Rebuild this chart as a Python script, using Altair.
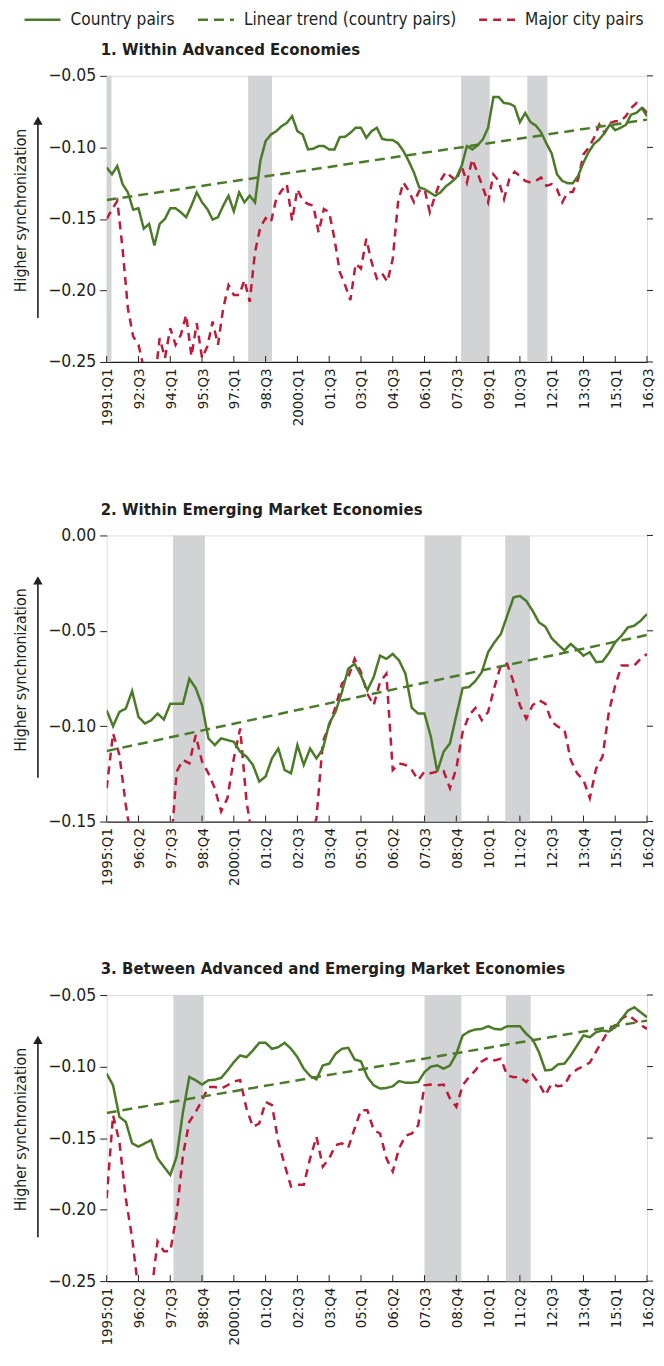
import altair as alt
import pandas as pd

FONT = "DejaVu Sans Condensed, Liberation Sans Narrow, sans-serif"
INK = "#231f20"

SERIES = ["Country pairs", "Linear trend (country pairs)", "Major city pairs"]
COLORS = ["#4b7b29", "#4b7b29", "#bf1b38"]
DASHES = [[1, 0], [10, 6], [8, 6]]
Y_TITLE = "Higher synchronization"

# ---------------- Panel 1 ----------------
p1_title = "1. Within Advanced Economies"
p1_country = [
    -0.1141, -0.1188, -0.1130, -0.1257, -0.1315, -0.1435, -0.1426, -0.1569, -0.1535, -0.1685,
    -0.1535, -0.1500, -0.1426, -0.1426, -0.1454, -0.1488, -0.1407, -0.1315, -0.1384, -0.1431,
    -0.1505, -0.1488, -0.1407, -0.1338, -0.1447, -0.1315, -0.1384, -0.1338, -0.1384, -0.1095,
    -0.0956, -0.0910, -0.0887, -0.0852, -0.0829, -0.0782, -0.0887, -0.0910, -0.1014, -0.1009,
    -0.0991, -0.0991, -0.1014, -0.1014, -0.0928, -0.0926, -0.0898, -0.0863, -0.0863, -0.0933,
    -0.0887, -0.0863, -0.0940, -0.0949, -0.0949, -0.0972, -0.1025, -0.1095, -0.1176, -0.1280,
    -0.1292, -0.1315, -0.1338, -0.1315, -0.1273, -0.1245, -0.1211, -0.1130, -0.0991, -0.1014,
    -0.0986, -0.0944, -0.0863, -0.0648, -0.0648, -0.0690, -0.0694, -0.0713, -0.0824, -0.0759,
    -0.0824, -0.0847, -0.0894, -0.0972, -0.1042, -0.1188, -0.1234, -0.1250, -0.1250, -0.1199,
    -0.1106, -0.1032, -0.0975, -0.0944, -0.0898, -0.0840, -0.0880, -0.0863, -0.0843, -0.0771,
    -0.0759, -0.0725, -0.0782]
p1_city = [
    -0.1500, -0.1435, -0.1373, -0.1708, -0.2125, -0.2322, -0.2380, -0.2542, -0.2634, -0.2657,
    -0.2333, -0.2472, -0.2264, -0.2380, -0.2310, -0.2171, -0.2461, -0.2229, -0.2472, -0.2391,
    -0.2218, -0.2380, -0.2125, -0.1963, -0.2032, -0.2032, -0.1928, -0.2079, -0.1731, -0.1558,
    -0.1495, -0.1523, -0.1361, -0.1303, -0.1257, -0.1512, -0.1292, -0.1373, -0.1396, -0.1407,
    -0.1593, -0.1431, -0.1454, -0.1639, -0.1870, -0.1963, -0.2067, -0.1813, -0.1847, -0.1639,
    -0.1801, -0.1917, -0.1882, -0.1940, -0.1778, -0.1384, -0.1245, -0.1303, -0.1384, -0.1303,
    -0.1292, -0.1454, -0.1338, -0.1234, -0.1171, -0.1204, -0.1234, -0.1130, -0.1245, -0.1083,
    -0.1176, -0.1280, -0.1384, -0.1188, -0.1234, -0.1361, -0.1222, -0.1171, -0.1199, -0.1234,
    -0.1245, -0.1234, -0.1211, -0.1269, -0.1257, -0.1292, -0.1384, -0.1315, -0.1310, -0.1222,
    -0.1049, -0.1002, -0.0933, -0.0840, -0.0898, -0.0829, -0.0817, -0.0817, -0.0782, -0.0725,
    -0.0690, -0.0718, -0.0759]
p1_trend = [-0.1368, -0.0806]
p1_ticks = ["1991:Q1", "92:Q3", "94:Q1", "95:Q3", "97:Q1", "98:Q3", "2000:Q1", "01:Q3",
            "03:Q1", "04:Q3", "06:Q1", "07:Q3", "09:Q1", "10:Q3", "12:Q1", "13:Q3",
            "15:Q1", "16:Q3"]
p1_step = 6
p1_shade_start = [0.0, 26.7, 66.9, 79.4]
p1_shade_end = [0.9, 31.2, 72.3, 83.2]
p1_ydomain = [-0.25, -0.05]
p1_yticks = [-0.25, -0.20, -0.15, -0.10, -0.05]

# ---------------- Panel 2 ----------------
p2_title = "2. Within Emerging Market Economies"
p2_country = [
    -0.0917, -0.1000, -0.0925, -0.0908, -0.0816, -0.0951, -0.0986, -0.0969, -0.0934, -0.0965,
    -0.0882, -0.0882, -0.0882, -0.0751, -0.0800, -0.0890, -0.1064, -0.1099, -0.1064, -0.1073,
    -0.1082, -0.1134, -0.1160, -0.1203, -0.1290, -0.1264, -0.1169, -0.1117, -0.1230, -0.1247,
    -0.1099, -0.1203, -0.1117, -0.1169, -0.1120, -0.0986, -0.0925, -0.0821, -0.0699, -0.0673,
    -0.0734, -0.0812, -0.0743, -0.0630, -0.0647, -0.0621, -0.0656, -0.0725, -0.0904, -0.0934,
    -0.0934, -0.1056, -0.1238, -0.1134, -0.1090, -0.0943, -0.0800, -0.0795, -0.0763, -0.0717,
    -0.0612, -0.0560, -0.0517, -0.0421, -0.0325, -0.0317, -0.0343, -0.0395, -0.0456, -0.0478,
    -0.0539, -0.0572, -0.0603, -0.0569, -0.0598, -0.0630, -0.0612, -0.0664, -0.0661, -0.0616,
    -0.0560, -0.0525, -0.0482, -0.0473, -0.0447, -0.0412]
p2_city = [
    -0.1325, -0.1038, -0.1151, -0.1412, -0.1621, -0.1690, -0.1777, -0.1777, -0.1777, -0.1743,
    -0.1690, -0.1238, -0.1177, -0.1195, -0.1047, -0.1186, -0.1247, -0.1325, -0.1447, -0.1377,
    -0.1169, -0.1012, -0.1395, -0.1603, -0.1690, -0.1777, -0.1800, -0.1800, -0.1780, -0.1750,
    -0.1700, -0.1650, -0.1600, -0.1482, -0.1082, -0.0995, -0.0899, -0.0777, -0.0743, -0.0647,
    -0.0717, -0.0830, -0.0890, -0.0769, -0.0725, -0.1230, -0.1195, -0.1203, -0.1230, -0.1282,
    -0.1238, -0.1247, -0.1238, -0.1235, -0.1325, -0.1221, -0.1030, -0.0943, -0.0904, -0.0969,
    -0.0925, -0.0795, -0.0682, -0.0673, -0.0769, -0.0890, -0.0960, -0.0890, -0.0864, -0.0882,
    -0.0977, -0.1003, -0.1016, -0.1177, -0.1247, -0.1282, -0.1377, -0.1221, -0.1160, -0.0925,
    -0.0786, -0.0682, -0.0682, -0.0682, -0.0647, -0.0621]
p2_trend = [-0.1130, -0.0522]
p2_ticks = ["1995:Q1", "96:Q2", "97:Q3", "98:Q4", "2000:Q1", "01:Q2", "02:Q3", "03:Q4",
            "05:Q1", "06:Q2", "07:Q3", "08:Q4", "10:Q1", "11:Q2", "12:Q3", "13:Q4",
            "15:Q1", "16:Q2"]
p2_step = 5
p2_shade_start = [10.44, 50.0, 62.7]
p2_shade_end = [15.45, 55.8, 66.6]
p2_ydomain = [-0.15, 0.0]
p2_yticks = [-0.15, -0.10, -0.05, 0.0]

# ---------------- Panel 3 ----------------
p3_title = "3. Between Advanced and Emerging Market Economies"
p3_country = [
    -0.1050, -0.1131, -0.1352, -0.1386, -0.1537, -0.1560, -0.1537, -0.1514, -0.1642, -0.1700,
    -0.1758, -0.1630, -0.1317, -0.1073, -0.1096, -0.1126, -0.1096, -0.1092, -0.1080, -0.1027,
    -0.0969, -0.0922, -0.0934, -0.0887, -0.0834, -0.0834, -0.0876, -0.0864, -0.0834, -0.0876,
    -0.0934, -0.1015, -0.1066, -0.1089, -0.0992, -0.0980, -0.0911, -0.0876, -0.0869, -0.0950,
    -0.0964, -0.1073, -0.1131, -0.1154, -0.1150, -0.1138, -0.1101, -0.1113, -0.1113, -0.1108,
    -0.1038, -0.1001, -0.0992, -0.1015, -0.0992, -0.0911, -0.0783, -0.0755, -0.0741, -0.0737,
    -0.0718, -0.0737, -0.0741, -0.0718, -0.0718, -0.0718, -0.0771, -0.0811, -0.0899, -0.1027,
    -0.1022, -0.0985, -0.0980, -0.0922, -0.0853, -0.0783, -0.0795, -0.0760, -0.0748, -0.0755,
    -0.0725, -0.0667, -0.0609, -0.0586, -0.0621, -0.0655]
p3_city = [
    -0.1920, -0.1340, -0.1526, -0.1920, -0.2198, -0.2570, -0.2662, -0.2593, -0.2222, -0.2291,
    -0.2291, -0.2036, -0.1618, -0.1386, -0.1317, -0.1236, -0.1143, -0.1143, -0.1154, -0.1131,
    -0.1103, -0.1096, -0.1294, -0.1421, -0.1398, -0.1247, -0.1270, -0.1526, -0.1688, -0.1839,
    -0.1827, -0.1827, -0.1642, -0.1491, -0.1700, -0.1642, -0.1549, -0.1537, -0.1567, -0.1433,
    -0.1305, -0.1305, -0.1444, -0.1468, -0.1642, -0.1734, -0.1572, -0.1484, -0.1468, -0.1410,
    -0.1131, -0.1126, -0.1131, -0.1126, -0.1224, -0.1282, -0.1131, -0.1073, -0.1027, -0.0964,
    -0.0939, -0.0957, -0.0945, -0.1061, -0.1075, -0.1073, -0.1108, -0.1057, -0.1119, -0.1201,
    -0.1119, -0.1138, -0.1131, -0.1050, -0.1020, -0.0997, -0.0973, -0.0894, -0.0818, -0.0744,
    -0.0709, -0.0667, -0.0637, -0.0672, -0.0709, -0.0737]
p3_trend = [-0.1324, -0.0679]
p3_ticks = p2_ticks
p3_step = 5
p3_shade_start = [10.5, 50.0, 62.8]
p3_shade_end = [15.25, 55.8, 66.7]
p3_ydomain = [-0.25, -0.05]
p3_yticks = [-0.25, -0.20, -0.15, -0.10, -0.05]

W = 542
H = 287


def panel(title, country, city, trend, ticks, step, s_start, s_end, ydom, yticks, legend):
    n = len(country)
    lines = pd.DataFrame({
        "t": list(range(n)) * 2,
        "value": country + city,
        "series": [SERIES[0]] * n + [SERIES[2]] * n,
    })
    tr = pd.DataFrame({"t": [0, n - 1], "value": trend, "series": [SERIES[1]] * 2})
    shade = pd.DataFrame({"s": s_start, "e": s_end})
    tick_pos = [i * step for i in range(len(ticks))]
    tickdf = pd.DataFrame({"t": tick_pos})
    ytickdf = pd.DataFrame({"v": yticks})
    one = pd.DataFrame({"label": [Y_TITLE], "title": [title]})

    xs = alt.Scale(domain=[0, n - 1], nice=False, zero=False)
    ys = alt.Scale(domain=ydom, nice=False, zero=False)
    arr = "[" + ",".join("'%s'" % l for l in ticks) + "]"
    xaxis = alt.Axis(values=tick_pos, labelExpr="%s[round(datum.value/%d)]" % (arr, step),
                     labelAngle=-90, labelAlign="right", labelBaseline="middle",
                     labelFontSize=15, labelFont=FONT, labelColor=INK, labelPadding=6,
                     ticks=False, domain=True, domainColor=INK, domainWidth=1.3,
                     grid=False, title=None, labelOverlap=False, labelFlush=False)
    yaxis = alt.Axis(values=yticks, format=".2f", tickSize=7, tickColor=INK, tickWidth=1,
                     labelPadding=4, labelFontSize=17.5, labelFont=FONT, labelColor=INK,
                     domain=False, grid=False, title=None, labelOverlap=False)
    X = lambda f: alt.X(f, scale=xs, axis=xaxis)
    Y = lambda f: alt.Y(f, scale=ys, axis=yaxis)

    cs = alt.Scale(domain=SERIES, range=COLORS)
    ds = alt.Scale(domain=SERIES, range=DASHES)
    if legend:
        lg = alt.Legend(orient="none", legendX=-73, legendY=-65, direction="horizontal",
                        title=None, symbolType="M-3,0L3,0", symbolSize=144,
                        symbolStrokeWidth=2.6, labelFontSize=17.2, labelFont=FONT,
                        labelColor=INK, columnPadding=17, labelOffset=19.5, labelLimit=0,
                        padding=0)
    else:
        lg = None

    bars = alt.Chart(shade).mark_rect(color="#d1d3d4").encode(
        x=X("s:Q"), x2="e:Q", y=alt.value(0), y2=alt.value(H))

    def ln(df, name, width):
        return alt.Chart(df).transform_filter(
            alt.datum.series == name
        ).mark_line(clip=True, strokeWidth=width).encode(
            x=X("t:Q"), y=Y("value:Q"),
            color=alt.Color("series:N", scale=cs, legend=lg),
            strokeDash=alt.StrokeDash("series:N", scale=ds, legend=lg),
        )

    city_l = ln(lines, SERIES[2], 2.5)
    country_l = ln(lines, SERIES[0], 2.5)
    trend_l = ln(tr, SERIES[1], 2.5)

    xticks = alt.Chart(tickdf).mark_rule(color=INK, strokeWidth=1).encode(
        x=X("t:Q"), y=alt.value(H - 6), y2=alt.value(H))
    rticks = alt.Chart(ytickdf).mark_rule(color=INK, strokeWidth=1).encode(
        y=Y("v:Q"), x=alt.value(W), x2=alt.value(W + 6))
    arrow = alt.Chart(one).mark_rule(color=INK, strokeWidth=1.6).encode(
        x=alt.value(-69), y=alt.value(47), y2=alt.value(243))
    head = alt.Chart(one).mark_point(shape="triangle-up", filled=True, size=90,
                                     color=INK, opacity=1).encode(
        x=alt.value(-69), y=alt.value(45))
    ytitle = alt.Chart(one).mark_text(angle=270, fontSize=15.8, font=FONT, color=INK,
                                      align="center", baseline="middle").encode(
        x=alt.value(-86), y=alt.value(135), text="label:N")
    ptitle = alt.Chart(one).mark_text(fontSize=16.7, font=FONT, color=INK, fontWeight="bold",
                                      align="left", baseline="middle").encode(
        x=alt.value(-6), y=alt.value(-26), text="title:N")

    return alt.layer(bars, city_l, country_l, trend_l, xticks, rticks, arrow, head,
                     ytitle, ptitle).properties(width=W, height=H)


c1 = panel(p1_title, p1_country, p1_city, p1_trend, p1_ticks, p1_step,
           p1_shade_start, p1_shade_end, p1_ydomain, p1_yticks, True)
c2 = panel(p2_title, p2_country, p2_city, p2_trend, p2_ticks, p2_step,
           p2_shade_start, p2_shade_end, p2_ydomain, p2_yticks, False)
c3 = panel(p3_title, p3_country, p3_city, p3_trend, p3_ticks, p3_step,
           p3_shade_start, p3_shade_end, p3_ydomain, p3_yticks, False)

chart = alt.vconcat(c1, c2, c3, spacing=74).resolve_scale(
    x="independent", y="independent", color="independent", strokeDash="independent"
).resolve_legend(color="independent", strokeDash="independent").properties(
    padding={"left": 4, "top": 0, "right": 0, "bottom": 0}
).configure_view(stroke=None).configure(background="white")

chart.save("out.html", embed_options={"renderer": "svg", "actions": False})
